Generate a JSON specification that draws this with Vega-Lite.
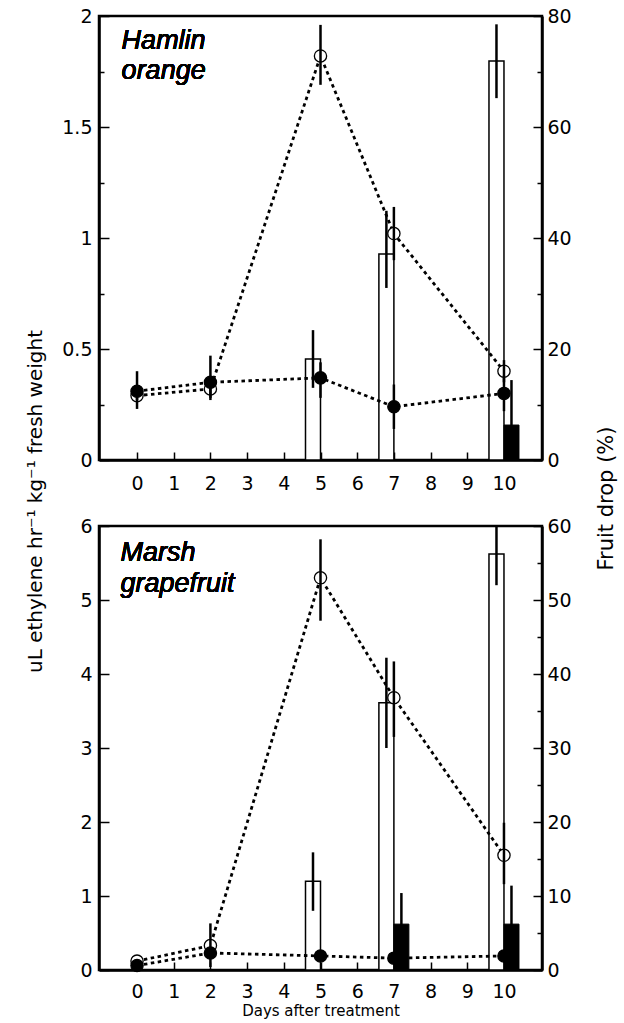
{
  "$schema": "https://vega.github.io/schema/vega-lite/v6.json",
  "padding": {"left": 23, "top": 5, "right": 0, "bottom": 0},
  "bounds": "flush",
  "spacing": 66,
  "config": {
    "font": "DejaVu Sans",
    "view": {"stroke": "black", "strokeWidth": 2.5},
    "axis": {"domainColor": "black", "domainWidth": 2.5, "tickColor": "black", "tickWidth": 1.5, "labelColor": "black", "titleColor": "black", "grid": false, "labelFont": "DejaVu Sans", "titleFont": "DejaVu Sans", "titleFontWeight": "normal", "labelFontSize": 19, "labelOverlap": false, "labelFlush": false}
  },
  "data": {"values": [
    {"panel": "Hamlin", "day": 0, "trt": "treated", "eth": 0.29, "eth_lo": 0.27, "eth_hi": 0.31, "drop": null, "drop_lo": null, "drop_hi": null},
    {"panel": "Hamlin", "day": 0, "trt": "control", "eth": 0.31, "eth_lo": 0.23, "eth_hi": 0.40, "drop": null, "drop_lo": null, "drop_hi": null},
    {"panel": "Hamlin", "day": 2, "trt": "treated", "eth": 0.32, "eth_lo": 0.28, "eth_hi": 0.36, "drop": null, "drop_lo": null, "drop_hi": null},
    {"panel": "Hamlin", "day": 2, "trt": "control", "eth": 0.35, "eth_lo": 0.27, "eth_hi": 0.47, "drop": null, "drop_lo": null, "drop_hi": null},
    {"panel": "Hamlin", "day": 5, "trt": "treated", "eth": 1.82, "eth_lo": 1.69, "eth_hi": 1.96, "drop": 18.2, "drop_lo": 13.0, "drop_hi": 23.4},
    {"panel": "Hamlin", "day": 5, "trt": "control", "eth": 0.37, "eth_lo": 0.28, "eth_hi": 0.44, "drop": null, "drop_lo": null, "drop_hi": null},
    {"panel": "Hamlin", "day": 7, "trt": "treated", "eth": 1.02, "eth_lo": 0.90, "eth_hi": 1.14, "drop": 37.1, "drop_lo": 31.0, "drop_hi": 44.9},
    {"panel": "Hamlin", "day": 7, "trt": "control", "eth": 0.24, "eth_lo": 0.14, "eth_hi": 0.34, "drop": null, "drop_lo": null, "drop_hi": null},
    {"panel": "Hamlin", "day": 10, "trt": "treated", "eth": 0.40, "eth_lo": 0.35, "eth_hi": 0.45, "drop": 71.9, "drop_lo": 65.2, "drop_hi": 78.5},
    {"panel": "Hamlin", "day": 10, "trt": "control", "eth": 0.30, "eth_lo": 0.22, "eth_hi": 0.38, "drop": 6.3, "drop_lo": 0, "drop_hi": 14.4},
    {"panel": "Marsh", "day": 0, "trt": "treated", "eth": 0.12, "eth_lo": 0.10, "eth_hi": 0.14, "drop": null, "drop_lo": null, "drop_hi": null},
    {"panel": "Marsh", "day": 0, "trt": "control", "eth": 0.06, "eth_lo": 0.03, "eth_hi": 0.09, "drop": null, "drop_lo": null, "drop_hi": null},
    {"panel": "Marsh", "day": 2, "trt": "treated", "eth": 0.33, "eth_lo": 0.04, "eth_hi": 0.63, "drop": null, "drop_lo": null, "drop_hi": null},
    {"panel": "Marsh", "day": 2, "trt": "control", "eth": 0.23, "eth_lo": 0.15, "eth_hi": 0.31, "drop": null, "drop_lo": null, "drop_hi": null},
    {"panel": "Marsh", "day": 5, "trt": "treated", "eth": 5.3, "eth_lo": 4.72, "eth_hi": 5.82, "drop": 12.0, "drop_lo": 8.0, "drop_hi": 15.9},
    {"panel": "Marsh", "day": 5, "trt": "control", "eth": 0.19, "eth_lo": 0.15, "eth_hi": 0.23, "drop": null, "drop_lo": null, "drop_hi": null},
    {"panel": "Marsh", "day": 7, "trt": "treated", "eth": 3.68, "eth_lo": 3.15, "eth_hi": 4.17, "drop": 36.1, "drop_lo": 30.0, "drop_hi": 42.2},
    {"panel": "Marsh", "day": 7, "trt": "control", "eth": 0.16, "eth_lo": 0.12, "eth_hi": 0.20, "drop": 6.2, "drop_lo": 2.0, "drop_hi": 10.4},
    {"panel": "Marsh", "day": 10, "trt": "treated", "eth": 1.55, "eth_lo": 1.16, "eth_hi": 1.99, "drop": 56.2, "drop_lo": 52.0, "drop_hi": 60.0},
    {"panel": "Marsh", "day": 10, "trt": "control", "eth": 0.19, "eth_lo": 0.15, "eth_hi": 0.23, "drop": 6.2, "drop_lo": 1.0, "drop_hi": 11.4}
  ]},
  "vconcat": [
    {
      "width": 443, "height": 444,
      "transform": [{"filter": "datum.panel == 'Hamlin'"}],
      "encoding": {
        "x": {"field": "day", "type": "quantitative", "scale": {"domain": [-0.9, 10.9], "nice": false, "zero": false},
              "axis": {"values": [0,1,2,3,4,5,6,7,8,9,10], "tickSize": -8, "labelFontSize": 19, "labelPadding": 22, "title": null}}
      },
      "layer": [
        {
          "layer": [
            {"transform": [{"filter": "datum.trt == 'treated' && isValid(datum.drop)"}],
             "mark": {"type": "bar", "orient": "vertical", "width": 15, "xOffset": -7.5, "fill": "white", "stroke": "black", "strokeWidth": 1.5},
             "encoding": {"y": {"field": "drop", "type": "quantitative", "stack": null, "scale": {"domain": [0, 80], "nice": false},
               "axis": {"orient": "right", "values": [0,10,20,30,40,50,60,70,80], "labelExpr": "datum.value % 20 == 0 ? format(datum.value, '~g') : ''", "tickSize": {"condition": {"test": "datum.value % 20 != 0", "value": -5}, "value": -9}, "labelPadding": 14, "title": "Fruit drop (%)", "titleFontSize": 21, "titleAngle": 270, "titleX": 70, "titleY": 482, "titleBaseline": "alphabetic", "titleAlign": "center"}}}},
            {"transform": [{"filter": "datum.trt == 'treated' && isValid(datum.drop)"}],
             "mark": {"type": "rule", "xOffset": -7.5, "strokeWidth": 2.5, "color": "black"},
             "encoding": {"y": {"field": "drop_lo", "type": "quantitative", "scale": {"domain": [0, 80], "nice": false},
               "axis": {"orient": "right", "values": [0,10,20,30,40,50,60,70,80], "labelExpr": "datum.value % 20 == 0 ? format(datum.value, '~g') : ''", "tickSize": {"condition": {"test": "datum.value % 20 != 0", "value": -5}, "value": -9}, "labelPadding": 14, "title": "Fruit drop (%)", "titleFontSize": 21, "titleAngle": 270, "titleX": 70, "titleY": 482, "titleBaseline": "alphabetic", "titleAlign": "center"}},
               "y2": {"field": "drop_hi"}}},
            {"transform": [{"filter": "datum.trt == 'control' && isValid(datum.drop)"}],
             "mark": {"type": "bar", "orient": "vertical", "width": 15, "xOffset": 7.5, "fill": "black", "stroke": "black", "strokeWidth": 1},
             "encoding": {"y": {"field": "drop", "type": "quantitative", "stack": null, "scale": {"domain": [0, 80], "nice": false},
               "axis": {"orient": "right", "values": [0,10,20,30,40,50,60,70,80], "labelExpr": "datum.value % 20 == 0 ? format(datum.value, '~g') : ''", "tickSize": {"condition": {"test": "datum.value % 20 != 0", "value": -5}, "value": -9}, "labelPadding": 14, "title": "Fruit drop (%)", "titleFontSize": 21, "titleAngle": 270, "titleX": 70, "titleY": 482, "titleBaseline": "alphabetic", "titleAlign": "center"}}}},
            {"transform": [{"filter": "datum.trt == 'control' && isValid(datum.drop)"}],
             "mark": {"type": "rule", "xOffset": 7.5, "strokeWidth": 2.5, "color": "black"},
             "encoding": {"y": {"field": "drop_lo", "type": "quantitative", "scale": {"domain": [0, 80], "nice": false},
               "axis": {"orient": "right", "values": [0,10,20,30,40,50,60,70,80], "labelExpr": "datum.value % 20 == 0 ? format(datum.value, '~g') : ''", "tickSize": {"condition": {"test": "datum.value % 20 != 0", "value": -5}, "value": -9}, "labelPadding": 14, "title": "Fruit drop (%)", "titleFontSize": 21, "titleAngle": 270, "titleX": 70, "titleY": 482, "titleBaseline": "alphabetic", "titleAlign": "center"}},
               "y2": {"field": "drop_hi"}}}
          ]
        },
        {
          "layer": [
            {"mark": {"type": "line", "strokeDash": [3.5, 3.5], "strokeWidth": 2.8, "color": "black"},
             "encoding": {"detail": {"field": "trt"},
               "y": {"field": "eth", "type": "quantitative", "scale": {"domain": [0, 2], "nice": false},
               "axis": {"orient": "left", "values": [0,0.25,0.5,0.75,1,1.25,1.5,1.75,2], "labelExpr": "datum.value % 0.5 == 0 ? format(datum.value, '~g') : ''", "tickSize": {"condition": {"test": "datum.value % 0.5 != 0", "value": -5}, "value": -10}, "labelPadding": 17, "title": "uL ethylene hr⁻¹ kg⁻¹ fresh weight", "titleFontSize": 20, "titleAngle": 270, "titleX": -58, "titleY": 485, "titleBaseline": "alphabetic", "titleAlign": "center"}}}},
            {"mark": {"type": "point", "shape": "circle", "filled": true, "size": 150, "stroke": "black", "strokeWidth": 1.3, "opacity": 1},
             "encoding": {"fill": {"field": "trt", "type": "nominal", "scale": {"domain": ["treated", "control"], "range": ["white", "black"]}, "legend": null},
               "y": {"field": "eth", "type": "quantitative", "scale": {"domain": [0, 2], "nice": false},
               "axis": {"orient": "left", "values": [0,0.25,0.5,0.75,1,1.25,1.5,1.75,2], "labelExpr": "datum.value % 0.5 == 0 ? format(datum.value, '~g') : ''", "tickSize": {"condition": {"test": "datum.value % 0.5 != 0", "value": -5}, "value": -10}, "labelPadding": 17, "title": "uL ethylene hr⁻¹ kg⁻¹ fresh weight", "titleFontSize": 20, "titleAngle": 270, "titleX": -58, "titleY": 485, "titleBaseline": "alphabetic", "titleAlign": "center"}}}},
            {"mark": {"type": "rule", "strokeWidth": 2.5, "color": "black"},
             "encoding": {
               "y": {"field": "eth_lo", "type": "quantitative", "scale": {"domain": [0, 2], "nice": false},
               "axis": {"orient": "left", "values": [0,0.25,0.5,0.75,1,1.25,1.5,1.75,2], "labelExpr": "datum.value % 0.5 == 0 ? format(datum.value, '~g') : ''", "tickSize": {"condition": {"test": "datum.value % 0.5 != 0", "value": -5}, "value": -10}, "labelPadding": 17, "title": "uL ethylene hr⁻¹ kg⁻¹ fresh weight", "titleFontSize": 20, "titleAngle": 270, "titleX": -58, "titleY": 485, "titleBaseline": "alphabetic", "titleAlign": "center"}},
               "y2": {"field": "eth_hi"}}},
            {"mark": {"type": "text", "text": ["Hamlin", "orange"], "font": "Liberation Sans", "fontStyle": "italic", "fontWeight": "normal", "fontSize": 27, "align": "left", "baseline": "alphabetic", "lineHeight": 30, "color": "black"},
             "encoding": {
               "x": {"datum": -0.42, "type": "quantitative", "scale": {"domain": [-0.9, 10.9], "nice": false, "zero": false}},
               "y": {"datum": 1.85, "type": "quantitative", "scale": {"domain": [0, 2], "nice": false}}}}
          ]
        }
      ],
      "resolve": {"scale": {"y": "independent"}}
    },
    {
      "width": 443, "height": 444,
      "transform": [{"filter": "datum.panel == 'Marsh'"}],
      "encoding": {
        "x": {"field": "day", "type": "quantitative", "scale": {"domain": [-0.9, 10.9], "nice": false, "zero": false},
              "axis": {"values": [0,1,2,3,4,5,6,7,8,9,10], "tickSize": -8, "labelFontSize": 19, "labelPadding": 20, "title": "Days after treatment", "titleFontSize": 15, "titlePadding": 2}}
      },
      "layer": [
        {
          "layer": [
            {"transform": [{"filter": "datum.trt == 'treated' && isValid(datum.drop)"}],
             "mark": {"type": "bar", "orient": "vertical", "width": 15, "xOffset": -7.5, "fill": "white", "stroke": "black", "strokeWidth": 1.5},
             "encoding": {"y": {"field": "drop", "type": "quantitative", "stack": null, "scale": {"domain": [0, 60], "nice": false},
               "axis": {"orient": "right", "values": [0,5,10,15,20,25,30,35,40,45,50,55,60], "labelExpr": "datum.value % 10 == 0 ? format(datum.value, '~g') : ''", "tickSize": {"condition": {"test": "datum.value % 10 != 0", "value": -5}, "value": -9}, "labelPadding": 14, "title": null}}}},
            {"transform": [{"filter": "datum.trt == 'treated' && isValid(datum.drop)"}],
             "mark": {"type": "rule", "xOffset": -7.5, "strokeWidth": 2.5, "color": "black"},
             "encoding": {"y": {"field": "drop_lo", "type": "quantitative", "scale": {"domain": [0, 60], "nice": false},
               "axis": {"orient": "right", "values": [0,5,10,15,20,25,30,35,40,45,50,55,60], "labelExpr": "datum.value % 10 == 0 ? format(datum.value, '~g') : ''", "tickSize": {"condition": {"test": "datum.value % 10 != 0", "value": -5}, "value": -9}, "labelPadding": 14, "title": null}},
               "y2": {"field": "drop_hi"}}},
            {"transform": [{"filter": "datum.trt == 'control' && isValid(datum.drop)"}],
             "mark": {"type": "bar", "orient": "vertical", "width": 15, "xOffset": 7.5, "fill": "black", "stroke": "black", "strokeWidth": 1},
             "encoding": {"y": {"field": "drop", "type": "quantitative", "stack": null, "scale": {"domain": [0, 60], "nice": false},
               "axis": {"orient": "right", "values": [0,5,10,15,20,25,30,35,40,45,50,55,60], "labelExpr": "datum.value % 10 == 0 ? format(datum.value, '~g') : ''", "tickSize": {"condition": {"test": "datum.value % 10 != 0", "value": -5}, "value": -9}, "labelPadding": 14, "title": null}}}},
            {"transform": [{"filter": "datum.trt == 'control' && isValid(datum.drop)"}],
             "mark": {"type": "rule", "xOffset": 7.5, "strokeWidth": 2.5, "color": "black"},
             "encoding": {"y": {"field": "drop_lo", "type": "quantitative", "scale": {"domain": [0, 60], "nice": false},
               "axis": {"orient": "right", "values": [0,5,10,15,20,25,30,35,40,45,50,55,60], "labelExpr": "datum.value % 10 == 0 ? format(datum.value, '~g') : ''", "tickSize": {"condition": {"test": "datum.value % 10 != 0", "value": -5}, "value": -9}, "labelPadding": 14, "title": null}},
               "y2": {"field": "drop_hi"}}}
          ]
        },
        {
          "layer": [
            {"mark": {"type": "line", "strokeDash": [3.5, 3.5], "strokeWidth": 2.8, "color": "black"},
             "encoding": {"detail": {"field": "trt"},
               "y": {"field": "eth", "type": "quantitative", "scale": {"domain": [0, 6], "nice": false},
               "axis": {"orient": "left", "values": [0,0.5,1,1.5,2,2.5,3,3.5,4,4.5,5,5.5,6], "labelExpr": "datum.value % 1 == 0 ? format(datum.value, '~g') : ''", "tickSize": {"condition": {"test": "datum.value % 1 != 0", "value": -5}, "value": -10}, "labelPadding": 17, "title": null}}}},
            {"mark": {"type": "point", "shape": "circle", "filled": true, "size": 150, "stroke": "black", "strokeWidth": 1.3, "opacity": 1},
             "encoding": {"fill": {"field": "trt", "type": "nominal", "scale": {"domain": ["treated", "control"], "range": ["white", "black"]}, "legend": null},
               "y": {"field": "eth", "type": "quantitative", "scale": {"domain": [0, 6], "nice": false},
               "axis": {"orient": "left", "values": [0,0.5,1,1.5,2,2.5,3,3.5,4,4.5,5,5.5,6], "labelExpr": "datum.value % 1 == 0 ? format(datum.value, '~g') : ''", "tickSize": {"condition": {"test": "datum.value % 1 != 0", "value": -5}, "value": -10}, "labelPadding": 17, "title": null}}}},
            {"mark": {"type": "rule", "strokeWidth": 2.5, "color": "black"},
             "encoding": {
               "y": {"field": "eth_lo", "type": "quantitative", "scale": {"domain": [0, 6], "nice": false},
               "axis": {"orient": "left", "values": [0,0.5,1,1.5,2,2.5,3,3.5,4,4.5,5,5.5,6], "labelExpr": "datum.value % 1 == 0 ? format(datum.value, '~g') : ''", "tickSize": {"condition": {"test": "datum.value % 1 != 0", "value": -5}, "value": -10}, "labelPadding": 17, "title": null}},
               "y2": {"field": "eth_hi"}}},
            {"mark": {"type": "text", "text": ["Marsh", "grapefruit"], "font": "Liberation Sans", "fontStyle": "italic", "fontWeight": "normal", "fontSize": 27, "align": "left", "baseline": "alphabetic", "lineHeight": 31, "color": "black"},
             "encoding": {
               "x": {"datum": -0.45, "type": "quantitative", "scale": {"domain": [-0.9, 10.9], "nice": false, "zero": false}},
               "y": {"datum": 5.53, "type": "quantitative", "scale": {"domain": [0, 6], "nice": false}}}}
          ]
        }
      ],
      "resolve": {"scale": {"y": "independent"}}
    }
  ]
}
